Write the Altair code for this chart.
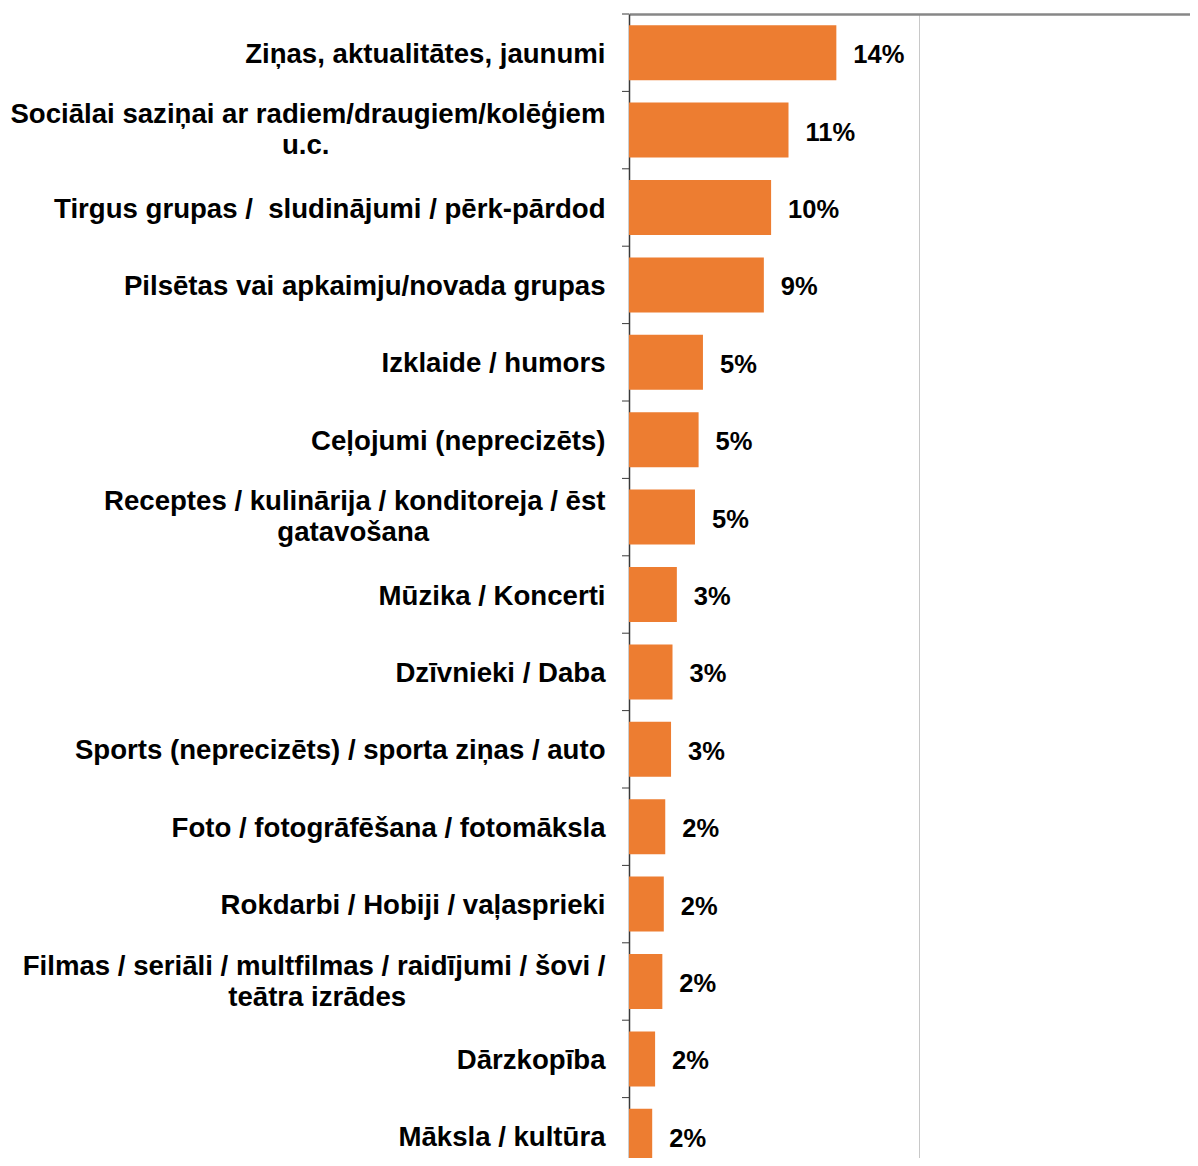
import altair as alt
import pandas as pd

FONT = "Liberation Sans"

categories = [
    "Ziņas, aktualitātes, jaunumi",
    "Sociālai saziņai ar radiem/draugiem/kolēģiem\nu.c.",
    "Tirgus grupas /  sludinājumi / pērk-pārdod",
    "Pilsētas vai apkaimju/novada grupas",
    "Izklaide / humors",
    "Ceļojumi (neprecizēts)",
    "Receptes / kulinārija / konditoreja / ēst\ngatavošana",
    "Mūzika / Koncerti",
    "Dzīvnieki / Daba",
    "Sports (neprecizēts) / sporta ziņas / auto",
    "Foto / fotogrāfēšana / fotomāksla",
    "Rokdarbi / Hobiji / vaļasprieki",
    "Filmas / seriāli / multfilmas / raidījumi / šovi /\nteātra izrādes",
    "Dārzkopība",
    "Māksla / kultūra",
]
values = [14.3, 11.0, 9.8, 9.3, 5.1, 4.8, 4.55, 3.3, 3.0, 2.9, 2.5, 2.4, 2.3, 1.8, 1.6]
value_labels = ["14%", "11%", "10%", "9%", "5%", "5%", "5%", "3%", "3%", "3%",
                "2%", "2%", "2%", "2%", "2%"]

# approximate glyph widths (em) used to centre the second line of wrapped labels
NARROW = {c: 0.278 for c in "iljīļ.,/ "}
NARROW.update({c: 0.333 for c in "tf()-"})
NARROW.update({"r": 0.389, "m": 0.889, "w": 0.778})
PAD_CHAR = "\u00a0"   # no-break space
PAD_W = 0.278


def text_w(s):
    tot = 0.0
    for ch in s:
        if ch in NARROW:
            tot += NARROW[ch]
        elif ch.isupper():
            tot += 0.722
        else:
            tot += 0.58
    return tot


def centre_lines(label):
    label = label.replace("  ", " \u00a0")  # keep the double space visible
    parts = label.split("\n")
    if len(parts) == 1:
        return label
    first, second = parts
    n = max(0, round((text_w(first) - text_w(second)) / 2 / PAD_W))
    # zero-width space at the end stops the padding from being trimmed
    return first + "\n" + second + PAD_CHAR * n + "\u200b"


df = pd.DataFrame({
    "cat": [centre_lines(c) for c in categories],
    "value": values,
    "label": value_labels,
})
order = list(df["cat"])

yscale = alt.Scale(range=[0, 1161], paddingInner=0, paddingOuter=0)
xscale = alt.Scale(domain=[0, 40], range=[0, 580])

yaxis = alt.Axis(title=None, labelExpr="split(datum.label, '\\n')",
                 labelFont=FONT, labelFontSize=27.6, labelFontWeight="bold",
                 labelColor="black", labelPadding=24, ticks=False,
                 domainColor="#3a3a3a", domainWidth=1.5, labelLimit=0,
                 labelLineHeight=31, labelAlign="right",
                 labelBaseline="middle", grid=False,
                 labelOffset={"condition": {"test": "indexof(datum.label, '\\n') >= 0",
                                            "value": -15},
                              "value": 2})
xaxis = alt.Axis(orient="top", title=None, labels=False, ticks=False,
                 values=[0, 20, 40], grid=True, gridColor="#c8c8c8",
                 gridWidth=1, domainColor="#878787", domainWidth=2.5)

base = alt.Chart(df)

bars = base.mark_bar(color="#ED7D31", size=55).encode(
    y=alt.Y("cat:N", sort=order, scale=yscale, axis=yaxis),
    x=alt.X("value:Q", scale=xscale, axis=xaxis),
)

texts = base.mark_text(align="left", baseline="middle", dx=17, dy=2.5, fontSize=25.5,
                       fontWeight="bold", font=FONT, color="black").encode(
    y=alt.Y("cat:N", sort=order, scale=yscale, axis=yaxis),
    x=alt.X("value:Q", scale=xscale, axis=xaxis),
    text="label:N",
)

ticks = base.mark_rule(color="#3a3a3a", strokeWidth=1).encode(
    y=alt.Y("cat:N", sort=order, bandPosition=0, scale=yscale, axis=yaxis),
    x=alt.value(-7),
    x2=alt.value(0),
)

chart = alt.layer(bars, texts, ticks).properties(
    width=561, height=1144,
    autosize=alt.AutoSizeParams(type="none"),
    padding={"left": 621, "top": 6, "right": 0, "bottom": 0},
).configure_view(stroke=None)

chart.save("out.html", embed_options={"renderer": "svg", "actions": False})
